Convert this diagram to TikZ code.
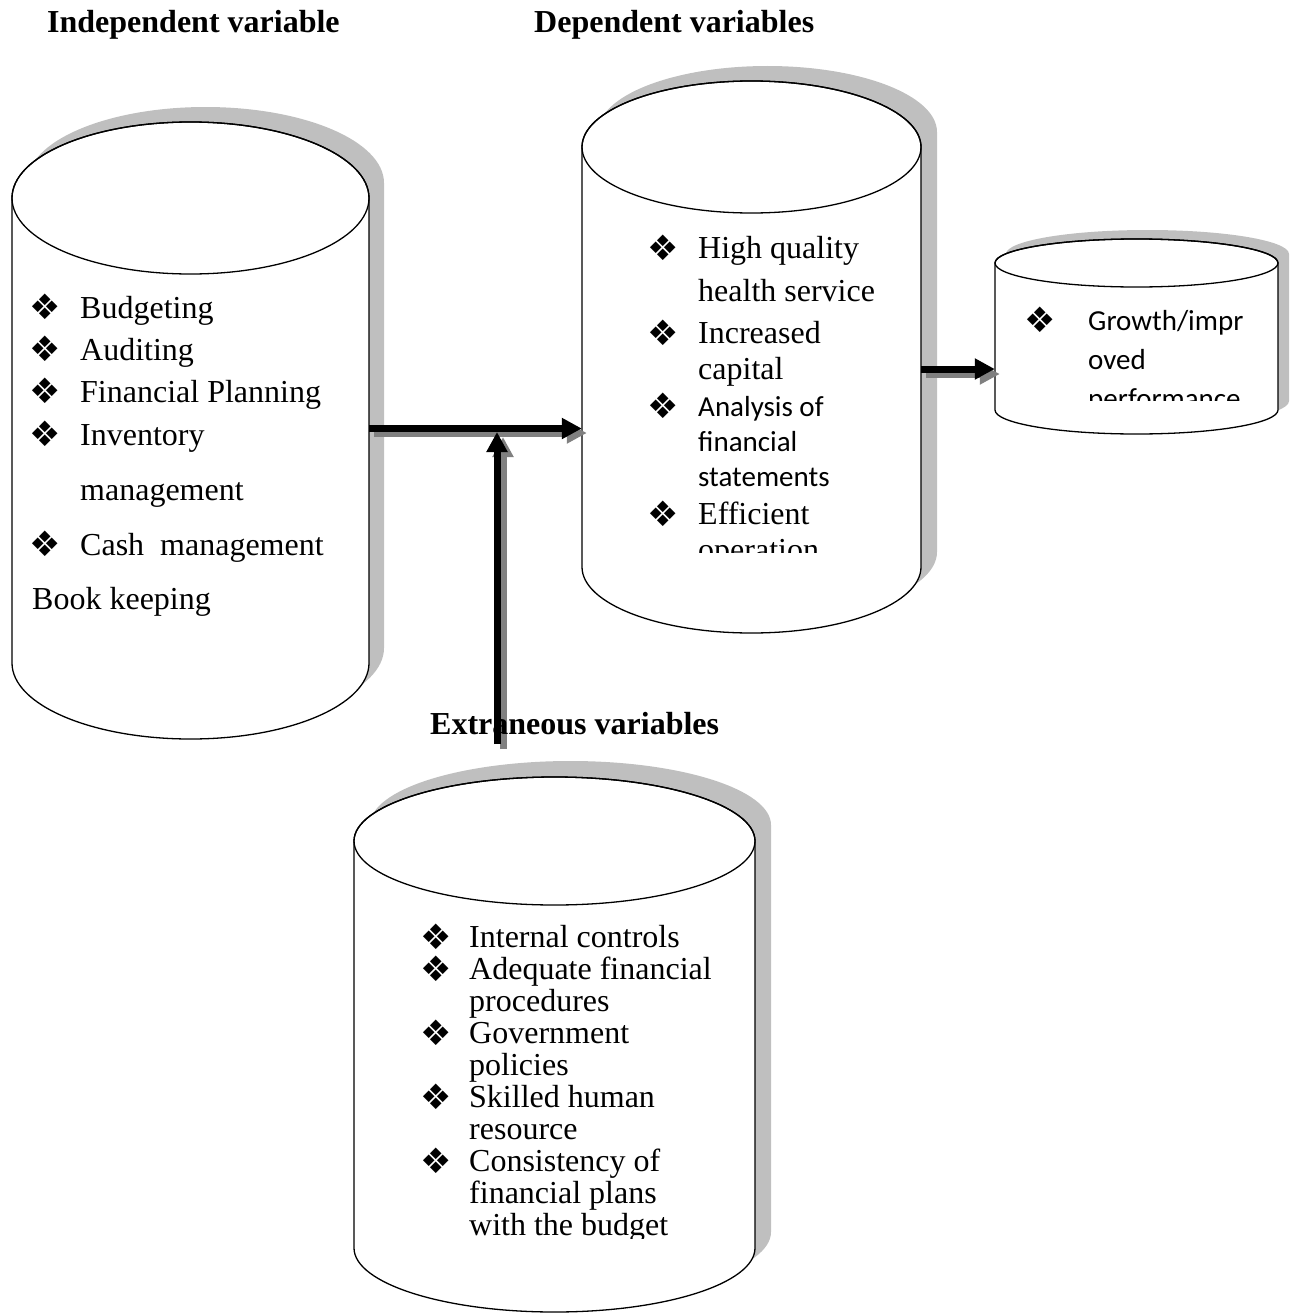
\documentclass[tikz,border=0pt]{standalone}
\usepackage{fontspec}
\setmainfont{Liberation Serif}
\newfontfamily\calfont{Carlito}
\newfontfamily\djvfont{DejaVu Sans}
\usetikzlibrary{arrows.meta}
\definecolor{shadowgray}{HTML}{BFBFBF}
\definecolor{arrowgray}{HTML}{808080}
\newcommand\mycyl[8]{%
  \fill[shadowgray, shift={(#7,#8)}] ({#2-#5},{-#3}) -- ({#2-#5},{-#4})
    arc[start angle=180, end angle=360, x radius=#5, y radius=#6]
    -- ({#2+#5},{-#3}) arc[start angle=0, end angle=180, x radius=#5, y radius=#6] -- cycle;
  \draw[cylline, fill=white] ({#2-#5},{-#3}) -- ({#2-#5},{-#4})
    arc[start angle=180, end angle=360, x radius=#5, y radius=#6]
    -- ({#2+#5},{-#3}) arc[start angle=0, end angle=180, x radius=#5, y radius=#6] -- cycle;
  \draw[cylline] (#2,{-#3}) ellipse[x radius=#5, y radius=#6];
  \node[inner sep=0, minimum width={2*#5}, minimum height={#4-#3}] (#1) at (#2,{-(#3+#4)/2}) {};
}
\begin{document}
\begin{tikzpicture}[x=1pt,y=1pt,
  cylline/.style={line width=1.3pt, draw=black},
  txt/.style={anchor=base west, inner sep=0, font=\fontsize{32}{32}\selectfont},
  caltxt/.style={anchor=base west, inner sep=0, font=\calfont\fontsize{29}{29}\selectfont},
  head/.style={anchor=base west, inner sep=0, font=\bfseries\fontsize{32}{32}\selectfont},
  bul/.style={anchor=center, inner sep=0, font=\djvfont\fontsize{35}{35}\selectfont},
  arrowblack/.style={line width=7pt, draw=black, -{Triangle[length=20pt,width=20pt]}},
  arrowshadow/.style={line width=7pt, draw=arrowgray, -{Triangle[length=20pt,width=20pt]}}
]
\useasboundingbox (0,0) rectangle (1291,-1314);

% headings
\node[head] (hIndep) at (47,-33) {Independent variable};
\node[head] (hDep) at (534,-33) {Dependent variables};

% cylinders
\mycyl{indep}{190.5}{198}{663}{178.5}{76}{15}{15}
\mycyl{dep}{751.5}{147}{567}{169.5}{66}{16}{15}
\mycyl{growth}{1136.5}{263}{410}{141.5}{24}{11}{9}
\mycyl{extr}{554.5}{841}{1248}{200.5}{64}{16}{16}

% independent texts
\node[bul] (b1) at (45,-307) {❖};
\node[txt] (t1) at (80,-318) {Budgeting};
\node[bul] (b2) at (45,-349) {❖};
\node[txt] (t2) at (80,-360) {Auditing};
\node[bul] (b3) at (45,-391) {❖};
\node[txt] (t3) at (80,-402) {Financial Planning};
\node[bul] (b4) at (45,-434) {❖};
\node[txt] (t4) at (80,-445) {Inventory};
\node[txt] (t5) at (80,-500) {management};
\node[bul] (b6) at (45,-544) {❖};
\node[txt] (t6) at (80,-555) {Cash~ management};
\node[txt] (t7) at (32,-609) {Book keeping};

% dependent texts
\begin{scope}
\clip (600,-220) rectangle (900,-552);
\node[bul] (d1b) at (663,-248) {❖};
\node[txt] (d1) at (698,-258) {High quality};
\node[txt] (d2) at (698,-301) {health service};
\node[bul] (d3b) at (663,-333) {❖};
\node[txt] (d3) at (698,-343) {Increased};
\node[txt] (d4) at (698,-379) {capital};
\node[bul] (d5b) at (663,-406) {❖};
\node[caltxt] (d5) at (698,-416) {Analysis of};
\node[caltxt] (d6) at (698,-451) {financial};
\node[caltxt] (d7) at (698,-486) {statements};
\node[bul] (d8b) at (663,-514) {❖};
\node[txt] (d8) at (698,-524) {Efficient};
\node[txt] (d9) at (698,-560) {operation};
\end{scope}

% growth text
\begin{scope}
\clip (1010,-285) rectangle (1270,-400);
\node[bul] (g1b) at (1040,-320) {❖};
\node[caltxt] (g1) at (1088,-330) {Growth/impr};
\node[caltxt] (g2) at (1088,-369) {oved};
\node[caltxt] (g3) at (1088,-408) {performance};
\end{scope}

% extraneous texts
\begin{scope}
\clip (400,-910) rectangle (740,-1238);
\node[bul] (e1b) at (436,-937) {❖};
\node[txt] (e1) at (469,-947) {Internal controls};
\node[bul] (e2b) at (436,-969) {❖};
\node[txt] (e2) at (469,-979) {Adequate financial};
\node[txt] (e3) at (469,-1011) {procedures};
\node[bul] (e4b) at (436,-1033) {❖};
\node[txt] (e4) at (469,-1043) {Government};
\node[txt] (e5) at (469,-1075) {policies};
\node[bul] (e6b) at (436,-1097) {❖};
\node[txt] (e6) at (469,-1107) {Skilled human};
\node[txt] (e7) at (469,-1139) {resource};
\node[bul] (e8b) at (436,-1161) {❖};
\node[txt] (e8) at (469,-1171) {Consistency of};
\node[txt] (e9) at (469,-1203) {financial plans};
\node[txt] (e10) at (469,-1235) {with the budget};
\end{scope}

% connectors
\coordinate (hy) at (0,-428.5);
\coordinate (gy) at (0,-369);
\coordinate (vbot) at (497,-744);
\coordinate (junc) at (497,-432);
\draw[arrowshadow, transform canvas={shift={(5,-4.5)}}] (indep.east |- hy) -- (dep.west |- hy);
\draw[arrowblack] (indep.east |- hy) -- (dep.west |- hy);
\draw[arrowshadow, transform canvas={shift={(6,-5)}}] (vbot) -- (junc);
\draw[arrowblack] (vbot) -- (junc);
\draw[arrowshadow, transform canvas={shift={(5,-5)}}] (dep.east |- gy) -- (growth.west |- gy);
\draw[arrowblack] (dep.east |- gy) -- (growth.west |- gy);

\node[head] (hExtr) at (430,-734) {Extraneous variables};
\end{tikzpicture}
\end{document}
